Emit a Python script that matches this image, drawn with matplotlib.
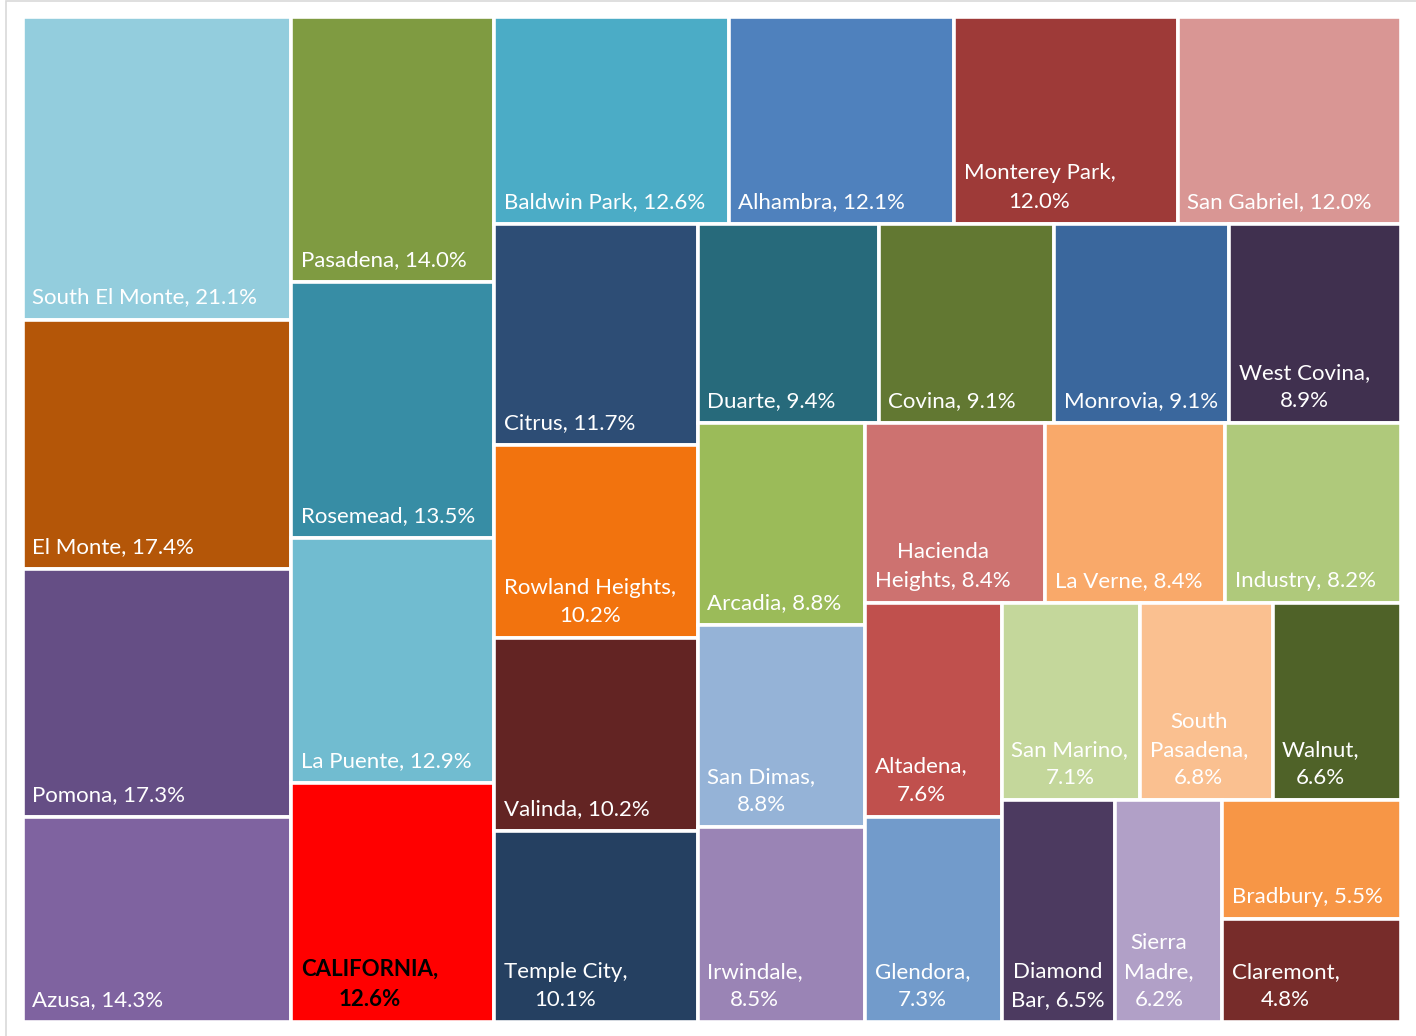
import matplotlib
matplotlib.use('Agg')
import matplotlib.pyplot as plt
from matplotlib.patches import Rectangle
from matplotlib.font_manager import FontProperties

# ---------------- data ----------------
names = ["South El Monte", "El Monte", "Pomona", "Azusa", "Pasadena", "Rosemead",
         "La Puente", "CALIFORNIA", "Baldwin Park", "Alhambra", "Monterey Park",
         "San Gabriel", "Citrus", "Rowland Heights", "Valinda", "Temple City",
         "Duarte", "Covina", "Monrovia", "West Covina", "Arcadia", "San Dimas",
         "Irwindale", "Hacienda Heights", "La Verne", "Industry", "Altadena",
         "Glendora", "San Marino", "South Pasadena", "Walnut", "Diamond Bar",
         "Sierra Madre", "Bradbury", "Claremont"]
values = [21.1, 17.4, 17.3, 14.3, 14.0, 13.5, 12.9, 12.6, 12.6, 12.1, 12.0,
          12.0, 11.7, 10.2, 10.2, 10.1, 9.4, 9.1, 9.1, 8.9, 8.8, 8.8, 8.5,
          8.4, 8.4, 8.2, 7.6, 7.3, 7.1, 6.8, 6.6, 6.5, 6.2, 5.5, 4.8]
colors = ["#93CDDD", "#B45608", "#654E85", "#7F63A0", "#7F9B41", "#378DA5",
          "#71BCD0", "#FF0000", "#4BACC6", "#4F81BD", "#9E3A38", "#D99694",
          "#2D4D75", "#F2730E", "#632423", "#254061", "#276A7B", "#627832",
          "#3A679D", "#40304F", "#9BBB59", "#95B3D7", "#9A84B5", "#CD7270",
          "#F9A96A", "#AFC97B", "#C0504D", "#729BCB", "#C4D79B", "#FAC090",
          "#4F6228", "#4C3A60", "#B1A0C7", "#F79646", "#772C2A"]
highlight = "CALIFORNIA"

# ---------------- figure ----------------
FW, FH = 1416, 1036
fig = plt.figure(figsize=(FW / 100, FH / 100), dpi=100)
AX_L, AX_R, AX_T, AX_B = 23, 1401, 17, 1022
ax = fig.add_axes([AX_L / FW, 1 - AX_B / FH, (AX_R - AX_L) / FW, (AX_B - AX_T) / FH])
AX_WPX = AX_R - AX_L

# layout space (squarified treemap)
LW, LH = 142.4, 100.0


def worst(row, side):
    s = sum(row)
    t = s / side
    return max(max(t / (a / t), (a / t) / t) for a in row)


def squarify(vals, x, y, w, h):
    total = sum(vals)
    areas = [v * w * h / total for v in vals]
    rects = []
    i = 0
    while i < len(areas):
        side = min(w, h)
        row = [areas[i]]
        j = i + 1
        while j < len(areas) and worst(row + [areas[j]], side) <= worst(row, side):
            row.append(areas[j])
            j += 1
        s = sum(row)
        if w >= h:
            t = s / h
            yy = y
            for a in row:
                rects.append((x, yy, t, a / t))
                yy += a / t
            x += t
            w -= t
        else:
            t = s / w
            xx = x
            for a in row:
                rects.append((xx, y, a / t, t))
                xx += a / t
            y += t
            h -= t
        i = j
    return rects


rects = squarify(values, 0, 0, LW, LH)

for (x, y, w, h), c in zip(rects, colors):
    ax.add_patch(Rectangle((x, y), w, h, facecolor=c, edgecolor='white', lw=2.6))

ax.set_xlim(0, LW)
ax.set_ylim(LH, 0)
ax.axis('off')

# ---------------- labels ----------------
FS = 16.0
PADX = 9.5
PADB = 12
WRAP_MARGIN = 18.2
renderer = fig.canvas.get_renderer()
prop_n = FontProperties(family='Lato', size=FS)
prop_b = FontProperties(family='Lato', size=FS, weight='bold')


def tw(s, prop):
    return renderer.get_text_width_height_descent(s, prop, ismath=False)[0]


for (x, y, w, h), n, v in zip(rects, names, values):
    is_hl = (n == highlight)
    prop = prop_b if is_hl else prop_n
    label = f"{n}, {v:.1f}%"
    avail = w / LW * AX_WPX - WRAP_MARGIN
    words = label.split(' ')
    lines = []
    cur = words[0]
    for wd in words[1:]:
        if tw(cur + ' ' + wd, prop) <= avail:
            cur = cur + ' ' + wd
        else:
            lines.append(cur)
            cur = wd
    lines.append(cur)
    ax.annotate("\n".join(lines), xy=(x, y + h), xycoords='data',
                xytext=(PADX, PADB), textcoords='offset pixels',
                ha='left', va='bottom', multialignment='center',
                color='black' if is_hl else 'white', fontproperties=prop,
                linespacing=1.52)

# outer light frame
fig.add_artist(Rectangle((6 / FW, -0.1), 1.2, 1.1 - 1.5 / FH, transform=fig.transFigure,
                         fill=False, edgecolor='#D9D9D9', lw=1.2))

fig.savefig('out.png', dpi=100)
